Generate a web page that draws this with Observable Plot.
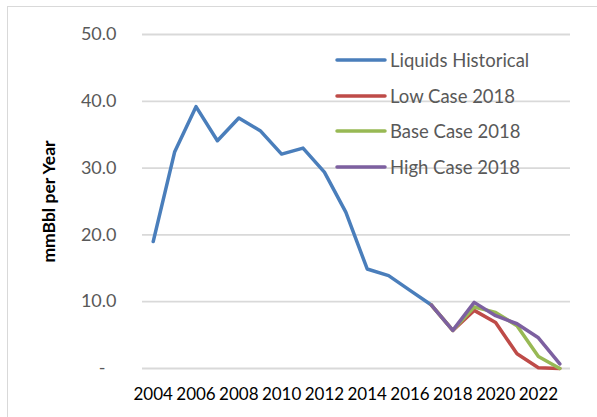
<!DOCTYPE html>
<html>
<head>
<meta charset="utf-8">
<script src="https://cdn.jsdelivr.net/npm/d3@7"></script>
<script src="https://cdn.jsdelivr.net/npm/@observablehq/plot@0.6"></script>
<style>
  html, body { margin: 0; padding: 0; background: #fff; overflow: hidden; }
  #wrap { position: relative; width: 597px; height: 417px; font-family: Lato, "Open Sans", sans-serif; }
  #frame { position: absolute; left: 7px; top: 6px; width: 620px; height: 440px; border: 1.5px solid #d9d9d9; box-sizing: border-box; }
  #chart { position: absolute; left: 0; top: 0; }
  #legend { position: absolute; left: 335px; top: 48px; }
  .item { position: absolute; left: 0; height: 24px; display: flex; align-items: center; white-space: pre; font-size: 18.5px; color: #595959; }
  .item svg { margin-right: 3px; }
</style>
</head>
<body>
<div id="wrap">
  <div id="frame"></div>
  <div id="chart"></div>
  <div id="legend"></div>
</div>
<script>
const histYears = [2004,2005,2006,2007,2008,2009,2010,2011,2012,2013,2014,2015,2016,2017];
const histValues = [19.0,32.4,39.2,34.1,37.5,35.6,32.1,33.0,29.4,23.4,14.9,13.9,11.7,9.5];
const caseYears = [2017,2018,2019,2020,2021,2022,2023];
const lowCase  = [9.5,5.7,8.7,6.9,2.2,0.1,0.0];
const baseCase = [9.5,5.7,9.2,8.4,6.4,1.8,0.0];
const highCase = [9.5,5.7,9.9,7.9,6.7,4.6,0.7];
const seriesNames = ["Liquids Historical","Low Case 2018","Base Case 2018","High Case 2018"];
const seriesColors = ["#4A7EBB","#BE4B48","#98B954","#7D60A0"];
const xTicks = [2004,2006,2008,2010,2012,2014,2016,2018,2020,2022];
const yTicks = [10,20,30,40,50];

const hist = histYears.map((y,i) => ({year:y, value:histValues[i]}));
const mk = arr => caseYears.map((y,i) => ({year:y, value:arr[i]}));

const plot = Plot.plot({
  width: 597, height: 417,
  marginLeft: 142, marginRight: 27, marginTop: 34, marginBottom: 49,
  style: {fontFamily: "Lato, 'Open Sans', sans-serif", background: "transparent"},
  x: {domain: [2003.5, 2023.5]},
  y: {domain: [0, 50]},
  marks: [
    Plot.gridY([0,...yTicks], {stroke: "#d9d9d9", strokeOpacity: 1, strokeWidth: 1.8}),
    Plot.axisY(yTicks, {tickSize: 0, tickPadding: 26, tickFormat: d => d.toFixed(1), fontSize: 18, fill: "#595959", label: null}),
    Plot.axisY([0], {tickSize: 0, tickPadding: 37, tickFormat: () => "-", fontSize: 18, fill: "#595959", label: null}),
    Plot.axisX(xTicks, {tickSize: 0, tickPadding: 19, tickFormat: d => String(d), fontSize: 17, fill: "#000", label: null}),
    Plot.text(["mmBbl per Year"], {frameAnchor: "left", dx: -93, rotate: -90, textAnchor: "middle", fontSize: 17.5, fontWeight: "bold", fill: "#000"}),
    Plot.line(hist, {x: "year", y: "value", stroke: seriesColors[0], strokeWidth: 3.5}),
    Plot.line(mk(lowCase), {x: "year", y: "value", stroke: seriesColors[1], strokeWidth: 3.5}),
    Plot.line(mk(baseCase), {x: "year", y: "value", stroke: seriesColors[2], strokeWidth: 3.5}),
    Plot.line(mk(highCase), {x: "year", y: "value", stroke: seriesColors[3], strokeWidth: 3.5})
  ]
});
document.getElementById("chart").appendChild(plot);

const legend = document.getElementById("legend");
seriesNames.forEach((name, i) => {
  const d = document.createElement("div");
  d.className = "item";
  d.style.top = (i * 35.6) + "px";
  d.innerHTML = `<svg width="52" height="6"><line x1="2" y1="3" x2="50" y2="3" stroke="${seriesColors[i]}" stroke-width="3.5" stroke-linecap="round"/></svg>` + (i === 0 ? "  " : "");
  const t = document.createElement("span");
  t.textContent = name;
  d.appendChild(t);
  legend.appendChild(d);
});
</script>
</body>
</html>
